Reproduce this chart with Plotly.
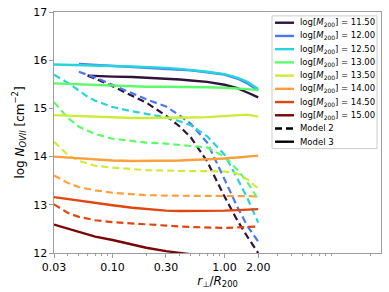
import plotly.graph_objects as go

# radial grid r_perp / R200
r_grid = [0.03, 0.04, 0.05, 0.06, 0.07, 0.1, 0.15, 0.2, 0.3, 0.4, 0.5, 0.7, 1.0, 1.3, 1.6, 2.0]

masses = ["11.50", "12.00", "12.50", "13.00", "13.50", "14.00", "14.50", "15.00"]
colors = ["#30123b", "#4a78f0", "#28d3dc", "#5cfb6a", "#cdec3a", "#fd9f3c", "#e2460f", "#7a0403"]
model_names = ["Model 2", "Model 3"]
model_dashes = ["7px,4px", "solid"]

# Model 3 (solid)
m3_1150 = [None, None, None, 15.68, 15.67, 15.66, 15.65, 15.64, 15.62, 15.60, 15.58, 15.55, 15.49, 15.42, 15.33, 15.23]
m3_1200 = [None, None, 15.92, 15.91, 15.91, 15.89, 15.87, 15.85, 15.83, 15.81, 15.79, 15.75, 15.70, 15.62, 15.52, 15.37]
m3_1250 = [15.91, 15.90, 15.90, 15.89, 15.89, 15.88, 15.87, 15.86, 15.84, 15.82, 15.80, 15.76, 15.71, 15.64, 15.55, 15.40]
m3_1300 = [15.52, 15.51, 15.50, 15.49, 15.48, 15.47, 15.46, 15.45, 15.45, 15.45, 15.45, 15.44, 15.43, 15.42, 15.40, 15.38]
m3_1350 = [14.86, 14.85, 14.84, 14.83, 14.82, 14.81, 14.80, 14.80, 14.80, 14.80, 14.81, 14.82, 14.84, 14.86, 14.87, 14.83]
m3_1400 = [14.00, 13.98, 13.96, 13.95, 13.94, 13.92, 13.91, 13.91, 13.91, 13.92, 13.93, 13.94, 13.96, 13.98, 14.00, 14.02]
m3_1450 = [13.16, 13.12, 13.09, 13.06, 13.03, 12.99, 12.94, 12.91, 12.88, 12.87, 12.87, 12.87, 12.88, 12.89, 12.90, 12.91]
m3_1500 = [12.59, 12.50, 12.43, 12.38, 12.34, 12.27, 12.18, 12.11, 12.04, 12.00, 11.97, 11.92, 11.88, 11.85, 11.82, 11.80]

# Model 2 (dashed)
m2_1150 = [None, None, None, 15.68, 15.62, 15.46, 15.27, 15.12, 14.85, 14.62, 14.40, 13.90, 13.17, 12.68, 12.34, 12.00]
m2_1200 = [None, None, 15.76, 15.70, 15.64, 15.49, 15.31, 15.19, 15.04, 14.85, 14.68, 14.29, 13.53, 12.96, 12.56, 12.24]
m2_1250 = [15.70, 15.53, 15.37, 15.24, 15.16, 15.03, 14.94, 14.88, 14.81, 14.73, 14.65, 14.42, 14.04, 13.55, 13.14, 12.63]
m2_1300 = [15.13, 14.80, 14.62, 14.53, 14.47, 14.37, 14.32, 14.29, 14.27, 14.25, 14.22, 14.19, 14.00, 13.73, 13.47, 13.11]
m2_1350 = [14.31, 14.03, 13.91, 13.85, 13.81, 13.77, 13.74, 13.72, 13.71, 13.70, 13.70, 13.70, 13.69, 13.65, 13.53, 13.34]
m2_1400 = [13.61, 13.45, 13.37, 13.33, 13.30, 13.25, 13.22, 13.20, 13.19, 13.19, 13.19, 13.19, 13.19, 13.18, 13.18, 13.17]
m2_1450 = [13.01, 12.83, 12.75, 12.71, 12.68, 12.64, 12.61, 12.59, 12.57, 12.55, 12.54, 12.53, 12.52, 12.53, 12.54, 12.55]

model3 = [m3_1150, m3_1200, m3_1250, m3_1300, m3_1350, m3_1400, m3_1450, m3_1500]
model2 = [m2_1150, m2_1200, m2_1250, m2_1300, m2_1350, m2_1400, m2_1450, None]

x_tickvals = [0.03, 0.1, 0.3, 1.0, 2.0]
x_ticktext = ["0.03", "0.10", "0.30", "1.00", "2.00"]
x_minor = [0.04, 0.05, 0.06, 0.07, 0.08, 0.09, 0.2, 0.4, 0.5, 0.6, 0.7, 0.8, 0.9,
           3, 4, 5, 6, 7, 8, 9, 20]
y_tickvals = [12, 13, 14, 15, 16, 17]

W, H = 389, 292
ML, MR, MT, MB = 54, 8, 6, 39
PW, PH = W - ML - MR, H - MT - MB


def px_x(p):
    return (p - ML) / PW


def px_y(p):
    return 1 - (p - MT) / PH


fig = go.Figure()
for m, c, s, d in zip(masses, colors, model3, model2):
    fig.add_trace(go.Scatter(x=r_grid, y=s, mode="lines",
                             line=dict(color=c, width=2.4), showlegend=False,
                             name=f"log[M200] = {m}"))
    if d is not None:
        fig.add_trace(go.Scatter(x=r_grid, y=d, mode="lines",
                                 line=dict(color=c, width=2.2, dash="7px,4px"),
                                 showlegend=False))

font = "DejaVu Sans"

# custom compact legend (matplotlib-like)
shapes = [dict(type="rect", xref="paper", yref="paper",
               x0=px_x(272), x1=px_x(377), y0=px_y(146), y1=px_y(10),
               line=dict(color="#cccccc", width=1), fillcolor="white", layer="above")]
annotations = []
labels = [f"log[<i>M</i><sub>200</sub>] = {m}" for m in masses] + model_names
lcolors = colors + ["black", "black"]
ldash = ["solid"] * len(masses) + model_dashes
for i, (lab, lc, ld) in enumerate(zip(labels, lcolors, ldash)):
    yy = 17 + 13.55 * i
    shapes.append(dict(type="line", xref="paper", yref="paper",
                       x0=px_x(275), x1=px_x(294), y0=px_y(yy), y1=px_y(yy),
                       line=dict(color=lc, width=2.4, dash=ld), layer="above"))
    annotations.append(dict(xref="paper", yref="paper", x=px_x(298), y=px_y(yy),
                            xanchor="left", yanchor="middle", showarrow=False,
                            text=lab, font=dict(size=8.5, family=font, color="black")))

fig.update_layout(
    width=W, height=H,
    margin=dict(l=ML, r=MR, t=MT, b=MB),
    paper_bgcolor="white", plot_bgcolor="white",
    font=dict(family=font, size=11, color="black"),
    showlegend=False,
    shapes=shapes, annotations=annotations,
    xaxis=dict(type="log", range=[-1.5229, 1.3979],
               tickvals=x_tickvals, ticktext=x_ticktext,
               ticks="outside", ticklen=3.5, tickcolor="#9e9e9e",
               showline=True, linecolor="#9e9e9e", linewidth=1.2, mirror=True,
               showgrid=False, zeroline=False, ticklabeloverflow="allow",
               minor=dict(tickvals=x_minor, ticks="outside", ticklen=2, tickcolor="#9e9e9e", showgrid=False),
               title=dict(text="<i>r</i><sub>⊥</sub>/<i>R</i><sub>200</sub>", font=dict(size=12), standoff=0)),
    yaxis=dict(range=[12, 17.0001], tickvals=y_tickvals,
               ticks="outside", ticklen=3.5, tickcolor="#9e9e9e",
               showline=True, linecolor="#9e9e9e", linewidth=1.2, mirror=True,
               showgrid=False, zeroline=False, ticklabeloverflow="allow",
               title=dict(text="log <i>N</i><sub><i>OVII</i></sub> [cm<sup>−2</sup>]", font=dict(size=12), standoff=6)),
)

fig.write_html("out.html", config={"displayModeBar": False},
               post_script="document.body.style.margin='0';document.body.style.padding='0';")
